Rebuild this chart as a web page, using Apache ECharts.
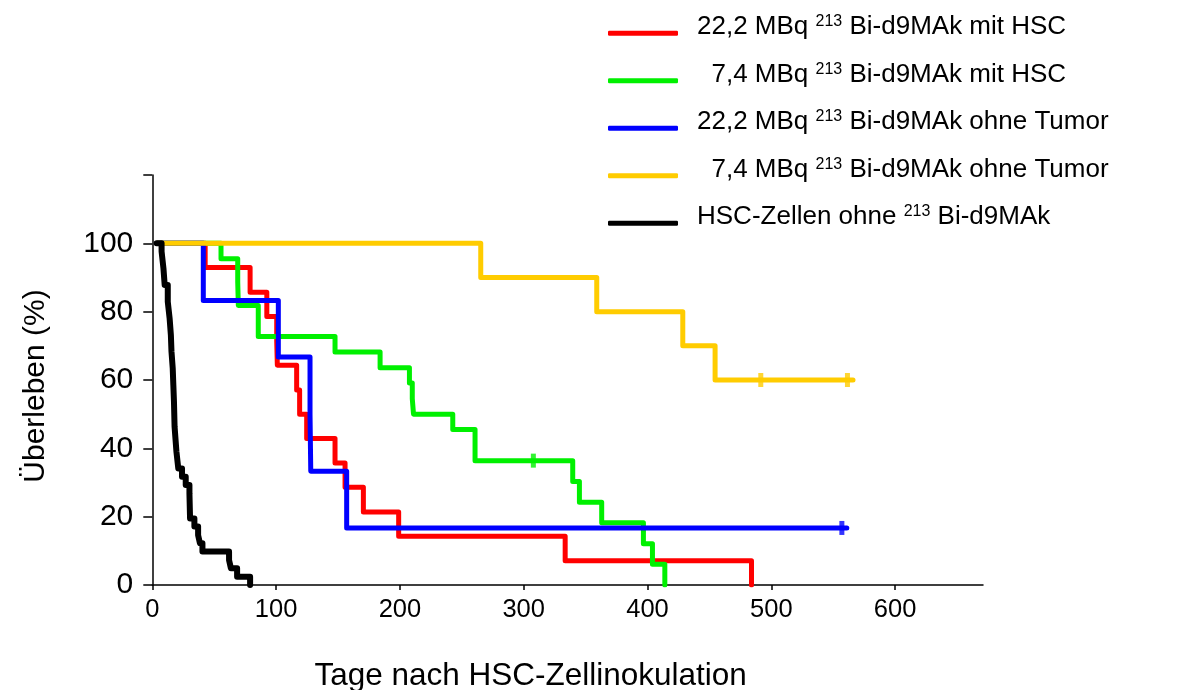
<!DOCTYPE html>
<html>
<head>
<meta charset="utf-8">
<script src="https://cdn.jsdelivr.net/npm/echarts@6/dist/echarts.min.js"></script>
<style>
html,body{margin:0;padding:0;background:#fff;}
#chart{width:1181px;height:690px;}
</style>
</head>
<body>
<div id="chart"></div>
<script>
// ---- data ----
const xTicks = [0, 100, 200, 300, 400, 500, 600];
const yTicks = [0, 20, 40, 60, 80, 100, 120];
const yLabels = [0, 20, 40, 60, 80, 100];

const legendNames = [
  '22,2 MBq {s|213} Bi-d9MAk mit HSC',
  '  7,4 MBq {s|213} Bi-d9MAk mit HSC',
  '22,2 MBq {s|213} Bi-d9MAk ohne Tumor',
  '  7,4 MBq {s|213} Bi-d9MAk ohne Tumor',
  'HSC-Zellen ohne {s|213} Bi-d9MAk'
];

const red = [[4,100],[42.7,92.9],[79,85.7],[92.5,78.6],[100.5,71.4],[101,64.3],[116.6,57.1],[119,50],[124.7,42.9],[147.6,35.7],[155.7,28.6],[170.5,21.4],[199,14.3],[333.5,7.1],[484,0]];
const green = [[4,100],[55.5,95.5],[69,88.6],[69.5,81.8],[85.6,72.7],[147.6,68.2],[184,63.6],[207.7,59.1],[210,54.5],[211,50],[242.7,45.5],[260.7,36.4],[339.6,30.3],[345,24.2],[363,18.2],[396.7,12.1],[404,6.1],[414,0]];
const blue = [[4,100],[41.2,83.3],[101.8,66.7],[127.4,50],[128,33.3],[157,16.7],[561,16.7]];
const yellow = [[4,100],[265.3,90],[359,80],[428.5,70],[454.6,60],[566,60]];
const black = [[3.5,100],[7.5,97.6],[9,92.7],[10,87.8],[12.5,82.9],[14,78],[15,73.2],[15.5,68.3],[16.5,63.4],[17,58.5],[17.5,53.7],[18,46.3],[19.5,39],[21,34.1],[24,31.7],[27,29.3],[30,26.8],[30.5,19.5],[34,17.1],[37,14.6],[38.5,12.2],[40.5,9.8],[62,7.3],[63.5,4.9],[68.5,2.4],[79,0]];

const greenCens = [[307.8,36.4]];
const yellowCens = [[491.5,60],[561.5,60]];
const blueCens = [[557,16.7]];

// ---- chart ----
const FONT = 'Liberation Sans, Arial, Helvetica, sans-serif';
const colors = ['#ff0000', '#00f000', '#0000ff', '#ffcc00', '#000000'];
const curves = [red, green, blue, yellow, black];
const drawOrder = [3, 2, 0, 1, 4];

const series = [];
drawOrder.forEach(function (i) {
  series.push({
    name: legendNames[i],
    type: 'line',
    step: 'end',
    data: curves[i],
    showSymbol: false,
    symbol: 'none',
    z: 2 + i,
    itemStyle: { color: colors[i] },
    lineStyle: { color: colors[i], width: i === 4 ? 6 : 5, cap: 'round', join: 'round' },
    animation: false
  });
});
[[greenCens, 1], [yellowCens, 3], [blueCens, 2]].forEach(function (c) {
  series.push({
    name: 'cens' + c[1],
    type: 'scatter',
    data: c[0],
    symbol: 'rect',
    symbolSize: [5, 14],
    itemStyle: { color: colors[c[1]] },
    z: 10,
    animation: false
  });
});

const chart = echarts.init(document.getElementById('chart'), null, { renderer: 'canvas' });
chart.setOption({
  backgroundColor: '#ffffff',
  animation: false,
  grid: { left: 152.3, right: 198, top: 175, bottom: 105, containLabel: false, outerBoundsMode: 'none' },
  legend: {
    data: legendNames,
    orient: 'vertical',
    left: 608,
    top: 12.3,
    padding: 0,
    itemGap: 5.5,
    itemWidth: 70,
    itemHeight: 5,
    icon: 'roundRect',
    selectedMode: false,
    formatter: function (n) { return n; },
    textStyle: {
      fontFamily: FONT,
      fontSize: 26,
      color: '#000',
      lineHeight: 30,
      padding: [0, 0, 12, 14],
      rich: {
        s: { fontFamily: FONT, fontSize: 16, color: '#000', padding: [0, 0, 11, 0] }
      }
    }
  },
  xAxis: {
    type: 'value',
    min: 0,
    max: 671,
    interval: 100,
    name: 'Tage nach HSC-Zellinokulation',
    nameLocation: 'middle',
    nameGap: 75,
    nameTextStyle: { fontFamily: FONT, fontSize: 31.5, color: '#000', padding: [0, 74, 0, 0] },
    splitLine: { show: false },
    axisLine: { lineStyle: { color: '#000', width: 1.5 } },
    axisTick: { show: true, length: 5, lineStyle: { color: '#000', width: 1.5 }, customValues: xTicks },
    axisLabel: { fontFamily: FONT, fontSize: 25.5, color: '#000', margin: 12, customValues: xTicks }
  },
  yAxis: {
    type: 'value',
    min: 0,
    max: 120,
    interval: 20,
    name: 'Überleben (%)',
    nameLocation: 'middle',
    nameGap: 102,
    nameTextStyle: { fontFamily: FONT, fontSize: 30, color: '#000', padding: [0, 12, 0, 0] },
    splitLine: { show: false },
    axisLine: { show: true, lineStyle: { color: '#000', width: 1.5 } },
    axisTick: { show: true, length: 9, lineStyle: { color: '#000', width: 1.5 }, customValues: yTicks },
    axisLabel: { fontFamily: FONT, fontSize: 30, color: '#000', margin: 19, customValues: yLabels }
  },
  series: series
});
</script>
</body>
</html>
